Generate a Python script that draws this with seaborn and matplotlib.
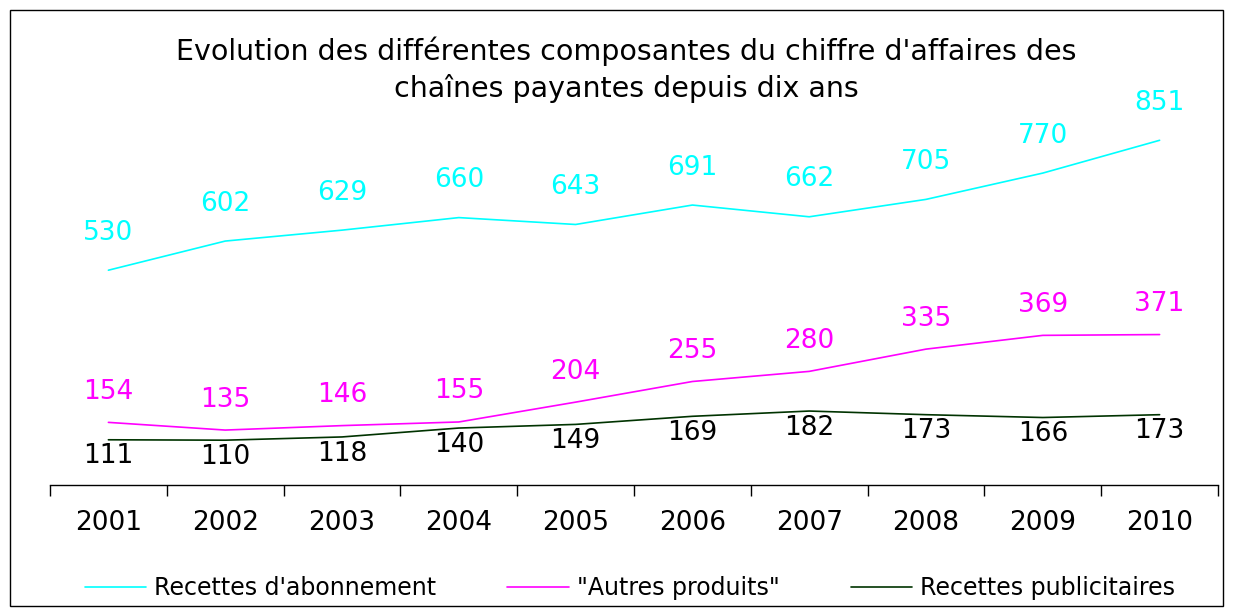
import matplotlib
matplotlib.use("Agg")
import matplotlib.pyplot as plt
from matplotlib.patches import Rectangle
from matplotlib.lines import Line2D
import seaborn as sns
import pandas as pd
import numpy as np

years = ["2001", "2002", "2003", "2004", "2005", "2006", "2007", "2008", "2009", "2010"]
abonnement = [530, 602, 629, 660, 643, 691, 662, 705, 770, 851]
autres = [154, 135, 146, 155, 204, 255, 280, 335, 369, 371]
pub = [111, 110, 118, 140, 149, 169, 182, 173, 166, 173]

series_names = ["Recettes d'abonnement", '"Autres produits"', "Recettes publicitaires"]
series_values = [abonnement, autres, pub]
colors = ["#00FFFF", "#FF00FF", "#003300"]
label_offsets = [27, 22, -12]  # points

sns.set_theme(style="white")
plt.rcParams['font.family'] = ['DejaVu Sans']
plt.rcParams['text.color'] = 'black'
plt.rcParams['xtick.color'] = 'black'

rows = []
for name, vals in zip(series_names, series_values):
    for i, v in enumerate(vals):
        rows.append({"x": i, "year": years[i], "value": v, "series": name})
df = pd.DataFrame(rows)

fig = plt.figure(figsize=(12.33, 6.16), dpi=100)
ax = fig.add_axes([50/1233, 1 - 484.7/616, 1168/1233, 404.7/616])

sns.lineplot(data=df, x="x", y="value", hue="series", hue_order=series_names,
             palette=colors, linewidth=1.2, ax=ax, legend=False, sort=False)

for name, vals, col, off in zip(series_names, series_values, colors, label_offsets):
    tcol = col if name != "Recettes publicitaires" else "black"
    for i, v in enumerate(vals):
        ax.annotate(str(v), (i, v), xytext=(0, off), textcoords="offset points",
                    ha="center", va="center", fontsize=19, color=tcol)

ax.set_xlim(-0.5, 9.5)
ax.set_ylim(0, 1000)
ax.set_xlabel("")
ax.set_ylabel("")
ax.set_yticks([])
ax.set_xticks(range(len(years)))
ax.set_xticklabels(years, fontsize=19, color="black")
ax.set_xticks(np.arange(-0.5, 10, 1), minor=True)
ax.tick_params(axis="x", which="major", length=0, pad=18)
ax.tick_params(axis="x", which="minor", length=8, width=1, color="black", direction="out", bottom=True)
for s in ["top", "left", "right"]:
    ax.spines[s].set_visible(False)
ax.spines["bottom"].set_color("black")
ax.spines["bottom"].set_linewidth(1)
ax.patch.set_alpha(0)

fig.text(0.508, 1 - 70/616, "Evolution des différentes composantes du chiffre d'affaires des\nchaînes payantes depuis dix ans",
         ha="center", va="center", fontsize=20.5, linespacing=1.33, color="black")

handles = [Line2D([0], [0], color=c, lw=1.2) for c in colors]
fig.legend(handles, series_names, loc="center", bbox_to_anchor=(0.511, 1 - 588/616),
           ncol=3, frameon=False, fontsize=17, handlelength=2.6, handletextpad=0.35,
           columnspacing=3.0, labelcolor="black")

fig.add_artist(Rectangle((10/1233, 10/616), 1213/1233, 596/616, transform=fig.transFigure,
                         fill=False, edgecolor="black", linewidth=1))

fig.savefig("out.png", dpi=100)
